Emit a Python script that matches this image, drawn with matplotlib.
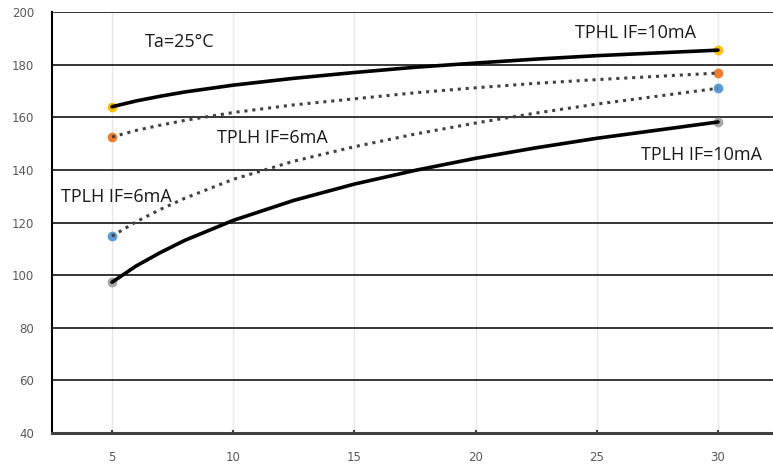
import matplotlib.pyplot as plt

# valores (tiempo de propagación vs carga)
x_vals = [5, 6, 7, 8, 10, 12.5, 15, 17.5, 20, 22.5, 25, 30]
tphl_10 = [164.0, 166.2, 168.0, 169.6, 172.2, 174.8, 177.0, 179.0, 180.6, 182.1, 183.4, 185.5]
tphl_6 = [152.5, 155.0, 157.0, 158.8, 161.8, 164.7, 167.0, 169.3, 171.2, 172.9, 174.3, 176.8]
tplh_6 = [114.8, 120.3, 125.0, 129.2, 136.4, 143.3, 148.8, 153.6, 157.8, 161.6, 165.0, 171.0]
tplh_10 = [97.3, 103.5, 108.6, 113.2, 120.8, 128.4, 134.6, 139.8, 144.4, 148.4, 152.0, 158.2]

x_ticks = [5, 10, 15, 20, 25, 30]
y_ticks = [40, 60, 80, 100, 120, 140, 160, 180, 200]

series = [
    (tphl_10, '#FFC000', '-'),
    (tphl_6, '#ED7D31', ':'),
    (tplh_6, '#5B9BD5', ':'),
    (tplh_10, '#A5A5A5', '-'),
]

fig = plt.figure(figsize=(7.73, 4.70), dpi=100)
ax = fig.add_axes([52 / 773, 1 - 433 / 470, 1 - 52 / 773, (433 - 12) / 470])

for vals, mcolor, ls in series:
    ends_x = [x_vals[0], x_vals[-1]]
    ends_y = [vals[0], vals[-1]]
    ax.plot(ends_x, ends_y, 'o', color=mcolor, markersize=6, zorder=3)
    if ls == '-':
        ax.plot(x_vals, vals, color='black', lw=2.6, zorder=4, solid_capstyle='round')
    else:
        ax.plot(x_vals, vals, color='#404040', lw=2.2, linestyle=(0, (1, 1.6)), zorder=4)

ax.set_xlim(2.525, 32.27)
ax.set_ylim(40, 200)
ax.set_xticks(x_ticks)
ax.set_yticks(y_ticks)

for y in y_ticks[1:]:
    ax.axhline(y, color='#262626', lw=1.3, zorder=1)
for x in x_ticks:
    ax.axvline(x, color='#e6e6e6', lw=1, zorder=0)

for side in ['top', 'right']:
    ax.spines[side].set_visible(False)
ax.spines['left'].set_color('black')
ax.spines['left'].set_linewidth(1.5)
ax.spines['bottom'].set_color('#404040')
ax.spines['bottom'].set_linewidth(2.2)

ax.tick_params(axis='y', length=0, pad=13, labelsize=8.5, labelcolor='#595959')
ax.tick_params(axis='x', direction='in', length=2, width=1.5, color='#404040',
               pad=13, labelsize=8.5, labelcolor='#595959')

txt = dict(fontsize=13, family='Open Sans', color='#1a1a1a', ha='center', va='center')
ax.text(7.8, 188.6, 'Ta=25°C', **txt)
ax.text(26.6, 192.0, 'TPHL IF=10mA', **txt)
ax.text(11.6, 152.0, 'TPLH IF=6mA', **txt)
ax.text(5.2, 129.8, 'TPLH IF=6mA', **txt)
ax.text(29.3, 145.6, 'TPLH IF=10mA', **txt)

fig.savefig('out.png', dpi=100)
